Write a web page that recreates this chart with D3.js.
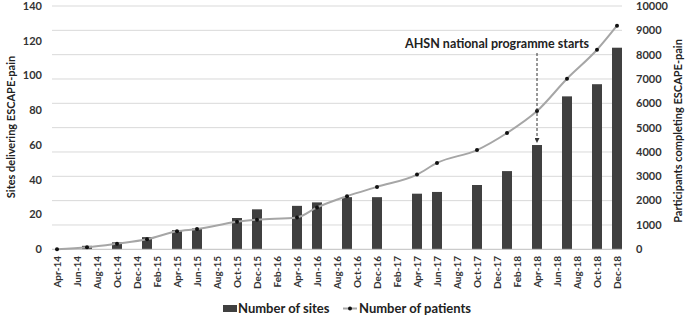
<!DOCTYPE html>
<html>
<head>
<meta charset="utf-8">
<script src="https://cdn.jsdelivr.net/npm/d3@7"></script>
<style>
  body { margin: 0; background: #fff; }
  svg { display: block; font-family: Lato, "Open Sans", sans-serif; }
</style>
</head>
<body>
<div class="chart"></div>
<script>
'use strict';

// Tick labels on the x axis (every second month)
const tickLabels = ["Apr-14","Jun-14","Aug-14","Oct-14","Dec-14","Feb-15","Apr-15","Jun-15","Aug-15",
  "Oct-15","Dec-15","Feb-16","Apr-16","Jun-16","Aug-16","Oct-16","Dec-16","Feb-17","Apr-17","Jun-17",
  "Aug-17","Oct-17","Dec-17","Feb-18","Apr-18","Jun-18","Aug-18","Oct-18","Dec-18"];

// Months where data was recorded
const siteMonths = ["Jul-14","Oct-14","Jan-15","Apr-15","Jun-15","Oct-15","Dec-15","Apr-16","Jun-16",
  "Sep-16","Dec-16","Apr-17","Jun-17","Oct-17","Jan-18","Apr-18","Jul-18","Oct-18","Dec-18"];
const sites = [2, 4, 7, 11, 12, 18, 23, 25, 27, 30, 30, 32, 33, 37, 45, 60, 88, 95, 116];

const patientMonths = ["Apr-14"].concat(siteMonths);
const patients = [0, 80, 230, 410, 740, 830, 1130, 1215, 1310, 1720, 2185, 2565, 3070, 3550,
  4080, 4780, 5680, 7010, 8200, 9190];

const leftTicks = [0, 20, 40, 60, 80, 100, 120, 140];
const rightTicks = [0, 1000, 2000, 3000, 4000, 5000, 6000, 7000, 8000, 9000, 10000];

const annotation = {month: "Apr-18", text: "AHSN national programme starts"};

// Canvas size
const width = 685, height = 315;
const plot = {left: 52, right: 622, top: 6, bottom: 249.3};

const fmt = d3.timeFormat("%b-%y");
const months = d3.timeMonth.range(new Date(2014, 3, 1), new Date(2019, 0, 1)).map(fmt);

const x = d3.scaleBand().domain(months).range([plot.left, plot.right]).padding(0);
const cx = m => x(m) + x.bandwidth() / 2;
const yLeft = d3.scaleLinear().domain([0, 140]).range([plot.bottom, plot.top]);
const yRight = d3.scaleLinear().domain([0, 10000]).range([plot.bottom, plot.top]);

const svg = d3.select(".chart").append("svg")
  .attr("width", width)
  .attr("height", height);

svg.append("defs").append("marker")
  .attr("id", "arrow")
  .attr("viewBox", "0 0 10 10")
  .attr("refX", 10).attr("refY", 5)
  .attr("markerWidth", 5).attr("markerHeight", 5)
  .attr("orient", "auto")
  .append("path")
  .attr("d", "M0,0L10,5L0,10Z")
  .attr("fill", "#333");

// gridlines (right axis)
svg.append("g")
  .selectAll("line")
  .data(rightTicks.slice(1))
  .join("line")
  .attr("x1", plot.left).attr("x2", plot.right)
  .attr("y1", d => yRight(d)).attr("y2", d => yRight(d))
  .attr("stroke", "#d9d9d9");

// bars
const barData = siteMonths.map((m, i) => ({month: m, value: sites[i]}));
svg.append("g")
  .selectAll("rect")
  .data(barData)
  .join("rect")
  .attr("x", d => x(d.month))
  .attr("width", x.bandwidth())
  .attr("y", d => yLeft(d.value))
  .attr("height", d => yLeft(0) - yLeft(d.value))
  .attr("fill", "#404040");

// baseline
svg.append("line")
  .attr("x1", plot.left).attr("x2", plot.right)
  .attr("y1", plot.bottom).attr("y2", plot.bottom)
  .attr("stroke", "#bfbfbf");

// patients line
const lineData = patientMonths.map((m, i) => ({month: m, value: patients[i]}));
svg.append("path")
  .datum(lineData)
  .attr("fill", "none")
  .attr("stroke", "#a6a6a6")
  .attr("stroke-width", 2)
  .attr("d", d3.line().x(d => cx(d.month)).y(d => yRight(d.value)).curve(d3.curveMonotoneX));
svg.append("g")
  .selectAll("circle")
  .data(lineData)
  .join("circle")
  .attr("cx", d => cx(d.month))
  .attr("cy", d => yRight(d.value))
  .attr("r", 2)
  .attr("fill", "#111");

// left axis labels
svg.append("g")
  .selectAll("text")
  .data(leftTicks)
  .join("text")
  .attr("x", 42)
  .attr("y", d => yLeft(d))
  .attr("dy", "0.35em")
  .attr("text-anchor", "end")
  .style("font-size", "11px")
  .style("font-weight", "bold")
  .attr("fill", "#333")
  .text(d => d);

// right axis labels
svg.append("g")
  .selectAll("text")
  .data(rightTicks)
  .join("text")
  .attr("x", 636)
  .attr("y", d => yRight(d))
  .attr("dy", "0.35em")
  .attr("text-anchor", "start")
  .style("font-size", "11px")
  .style("font-weight", "bold")
  .attr("fill", "#333")
  .text(d => d);

// x tick labels
svg.append("g")
  .selectAll("text")
  .data(tickLabels)
  .join("text")
  .attr("transform", d => `translate(${cx(d)},256) rotate(-90)`)
  .attr("dy", "0.35em")
  .attr("text-anchor", "end")
  .style("font-size", "10px")
  .style("font-weight", "bold")
  .attr("fill", "#333")
  .text(d => d);

// axis titles
svg.append("text")
  .attr("transform", "translate(15,127) rotate(-90)")
  .attr("text-anchor", "middle")
  .style("font-size", "11px")
  .style("font-weight", "bold")
  .attr("fill", "#222")
  .text("Sites delivering ESCAPE-pain");
svg.append("text")
  .attr("transform", "translate(682,131) rotate(-90)")
  .attr("text-anchor", "middle")
  .style("font-size", "11px")
  .style("font-weight", "bold")
  .attr("fill", "#222")
  .text("Participants completing ESCAPE-pain");

// annotation
const ax = cx(annotation.month);
svg.append("text")
  .attr("x", 405)
  .attr("y", 48)
  .style("font-size", "12.5px")
  .style("font-weight", "bold")
  .attr("fill", "#222")
  .text(annotation.text);
svg.append("line")
  .attr("x1", ax).attr("x2", ax)
  .attr("y1", 53)
  .attr("y2", yLeft(sites[siteMonths.indexOf(annotation.month)]) - 2)
  .attr("stroke", "#333")
  .attr("stroke-dasharray", "3,2")
  .attr("marker-end", "url(#arrow)");

// legend
const legend = svg.append("g").style("font-size", "13px").style("font-weight", "bold").attr("fill", "#222");
legend.append("rect")
  .attr("x", 223).attr("y", 305)
  .attr("width", 14).attr("height", 7)
  .attr("fill", "#404040");
legend.append("text").attr("x", 238).attr("y", 312.5).text("Number of sites");
legend.append("line")
  .attr("x1", 343).attr("x2", 357)
  .attr("y1", 308.5).attr("y2", 308.5)
  .attr("stroke", "#a6a6a6").attr("stroke-width", 2);
legend.append("circle").attr("cx", 350).attr("cy", 308.5).attr("r", 2).attr("fill", "#111");
legend.append("text").attr("x", 359).attr("y", 312.5).text("Number of patients");
</script>
</body>
</html>
